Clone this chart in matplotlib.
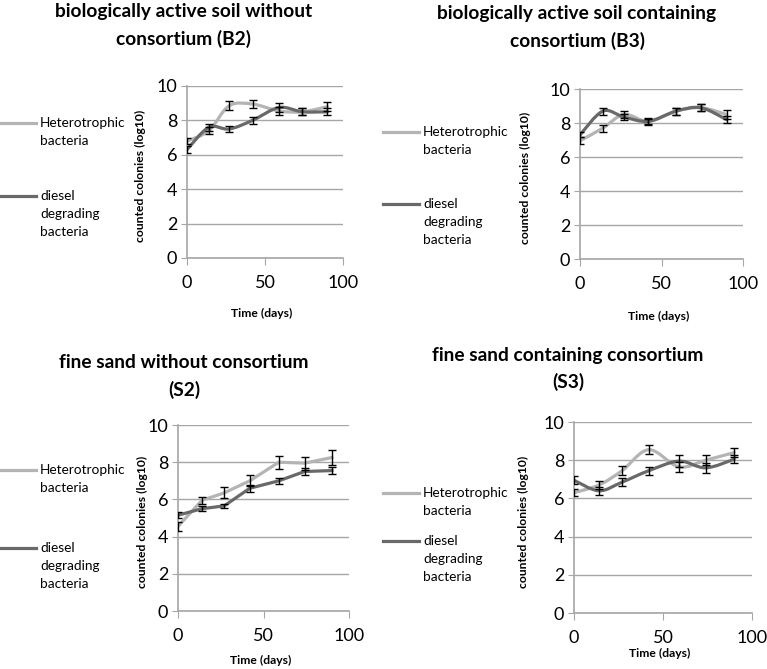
'''
growth of heterotrophic and diesel degrading bacteria in four soil set-ups
'''
import numpy as np
import matplotlib
matplotlib.use('Agg')
import matplotlib.pyplot as plt
from matplotlib.path import Path
from matplotlib.patches import PathPatch

plt.rcParams['font.family'] = ['Lato', 'DejaVu Sans']

# sampling days (shared by all panels)
days = [0, 14, 27, 42, 59, 74, 90]

# B2 - biologically active soil without consortium
b2_het = [6.8, 7.4, 8.85, 8.95, 8.55, 8.5, 8.8]
b2_het_err = [0.2, 0.2, 0.25, 0.25, 0.25, 0.2, 0.25]
b2_dies = [6.3, 7.6, 7.5, 8.0, 8.75, 8.5, 8.5]
b2_dies_err = [0.2, 0.2, 0.2, 0.2, 0.25, 0.2, 0.2]

# B3 - biologically active soil containing consortium
b3_het = [6.95, 7.7, 8.5, 8.1, 8.7, 8.9, 8.5]
b3_het_err = [0.2, 0.2, 0.2, 0.15, 0.2, 0.2, 0.25]
b3_dies = [7.3, 8.7, 8.35, 8.1, 8.7, 8.9, 8.2]
b3_dies_err = [0.15, 0.2, 0.2, 0.2, 0.2, 0.2, 0.2]

# S2 - fine sand without consortium
s2_het = [4.55, 5.95, 6.35, 7.0, 8.0, 7.95, 8.25]
s2_het_err = [0.25, 0.2, 0.3, 0.3, 0.35, 0.35, 0.4]
s2_dies = [5.15, 5.5, 5.65, 6.6, 7.0, 7.5, 7.55]
s2_dies_err = [0.15, 0.15, 0.1, 0.2, 0.15, 0.2, 0.2]

# S3 - fine sand containing consortium
s3_het = [6.3, 6.7, 7.45, 8.55, 7.65, 8.0, 8.4]
s3_het_err = [0.2, 0.2, 0.25, 0.25, 0.25, 0.25, 0.25]
s3_dies = [6.95, 6.4, 6.85, 7.45, 7.95, 7.6, 8.05]
s3_dies_err = [0.2, 0.2, 0.2, 0.2, 0.3, 0.25, 0.2]

titles = ['biologically active soil without\nconsortium (B2)',
          'biologically active soil containing\nconsortium (B3)',
          'fine sand without consortium\n(S2)',
          'fine sand containing consortium\n(S3)']
legend_labels = ['Heterotrophic\nbacteria', 'diesel\ndegrading\nbacteria']

HET_COLOR = '#b4b4b4'
DIES_COLOR = '#696969'
GRID_COLOR = '#a6a6a6'

W, H = 767, 669

# layout in pixels: axes box (left, right, top, bottom), title centre x / line-1 centre y,
# y label x, x label y, legend line y's
panels = [
    dict(box=(187, 343, 86, 258), title=(184, 12), ylab=140, xlab=313, leg=(123, 196), smooth=True),
    dict(box=(580, 743, 89, 259), title=(577, 14), ylab=525, xlab=316, leg=(132, 204), smooth=True),
    dict(box=(178, 349, 425, 611), title=(184, 363), ylab=142, xlab=660, leg=(470, 548), smooth=False),
    dict(box=(574, 752, 422, 613), title=(568, 355), ylab=523, xlab=653, leg=(493, 541), smooth=True),
]
series = [
    (b2_het, b2_het_err, b2_dies, b2_dies_err),
    (b3_het, b3_het_err, b3_dies, b3_dies_err),
    (s2_het, s2_het_err, s2_dies, s2_dies_err),
    (s3_het, s3_het_err, s3_dies, s3_dies_err),
]


def fx(px):
    return px / W


def fy(py):
    return 1 - py / H


# excel-like smoothed line through the points (bezier segments)
def smooth_path(x, y):
    pts = np.column_stack([x, y]).astype(float)
    verts = [pts[0]]
    codes = [Path.MOVETO]
    n = len(pts)
    for i in range(n - 1):
        p0 = pts[max(i - 1, 0)]
        p1 = pts[i]
        p2 = pts[i + 1]
        p3 = pts[min(i + 2, n - 1)]
        c1 = p1 + (p2 - p0) / 6.0
        c2 = p2 - (p3 - p1) / 6.0
        verts += [c1, c2, p2]
        codes += [Path.CURVE4] * 3
    return Path(verts, codes)


def draw_series(ax, x, y, err, color, smooth):
    if smooth:
        ax.add_patch(PathPatch(smooth_path(x, y), facecolor='none', edgecolor=color,
                               lw=2.3, capstyle='round', joinstyle='round', zorder=3))
    else:
        ax.plot(x, y, color=color, lw=2.3, solid_joinstyle='round', zorder=3)
    ax.errorbar(x, y, yerr=err, fmt='none', ecolor='black', elinewidth=1,
                capsize=3, capthick=1, zorder=4)


fig = plt.figure(figsize=(W / 100, H / 100), dpi=100)

for p, (het, het_err, dies, dies_err), title in zip(panels, series, titles):
    l, r, t, b = p['box']
    ax = fig.add_axes([fx(l), fy(b), (r - l) / W, (b - t) / H])
    draw_series(ax, days, het, het_err, HET_COLOR, p['smooth'])
    draw_series(ax, days, dies, dies_err, DIES_COLOR, p['smooth'])

    ax.set_xlim(0, 100)
    ax.set_ylim(0, 10)
    ax.set_xticks([0, 50, 100])
    ax.set_yticks([0, 2, 4, 6, 8, 10])
    ax.yaxis.grid(True, color=GRID_COLOR, lw=1)
    ax.set_axisbelow(True)
    for side in ['top', 'right']:
        ax.spines[side].set_visible(False)
    for side in ['left', 'bottom']:
        ax.spines[side].set_color(GRID_COLOR)
        ax.spines[side].set_linewidth(1.2)
    ax.tick_params(axis='x', direction='out', length=5, color=GRID_COLOR, pad=7, labelsize=13)
    ax.tick_params(axis='y', direction='out', length=4, color=GRID_COLOR, pad=3, labelsize=13)

    # title (two lines) and axis labels
    tx, ty = p['title']
    for k, line in enumerate(title.split('\n')):
        fig.text(fx(tx), fy(ty + 26.5 * k), line, ha='center', va='center',
                 fontsize=13.8, fontweight='bold')
    fig.text(fx(p['ylab']), fy((t + b) / 2 + 4), 'counted colonies (log10)', rotation=90,
             ha='center', va='center', fontsize=8.7, fontweight='bold')
    fig.text(fx((l + r) / 2 - 3), fy(p['xlab']), 'Time (days)', ha='center', va='center',
             fontsize=8.7, fontweight='bold')

    # legend on the left side of the panel
    x0 = 0 if l < 380 else 383
    for ly, label, color in zip(p['leg'], legend_labels, [HET_COLOR, DIES_COLOR]):
        fig.lines.append(plt.Line2D([fx(x0), fx(x0 + 36)], [fy(ly), fy(ly)],
                                    color=color, lw=2.3, transform=fig.transFigure))
        for k, line in enumerate(label.split('\n')):
            fig.text(fx(x0 + 40), fy(ly + 18 * k), line, ha='left', va='center',
                     fontsize=9.8)

fig.savefig('out.png', dpi=100)
